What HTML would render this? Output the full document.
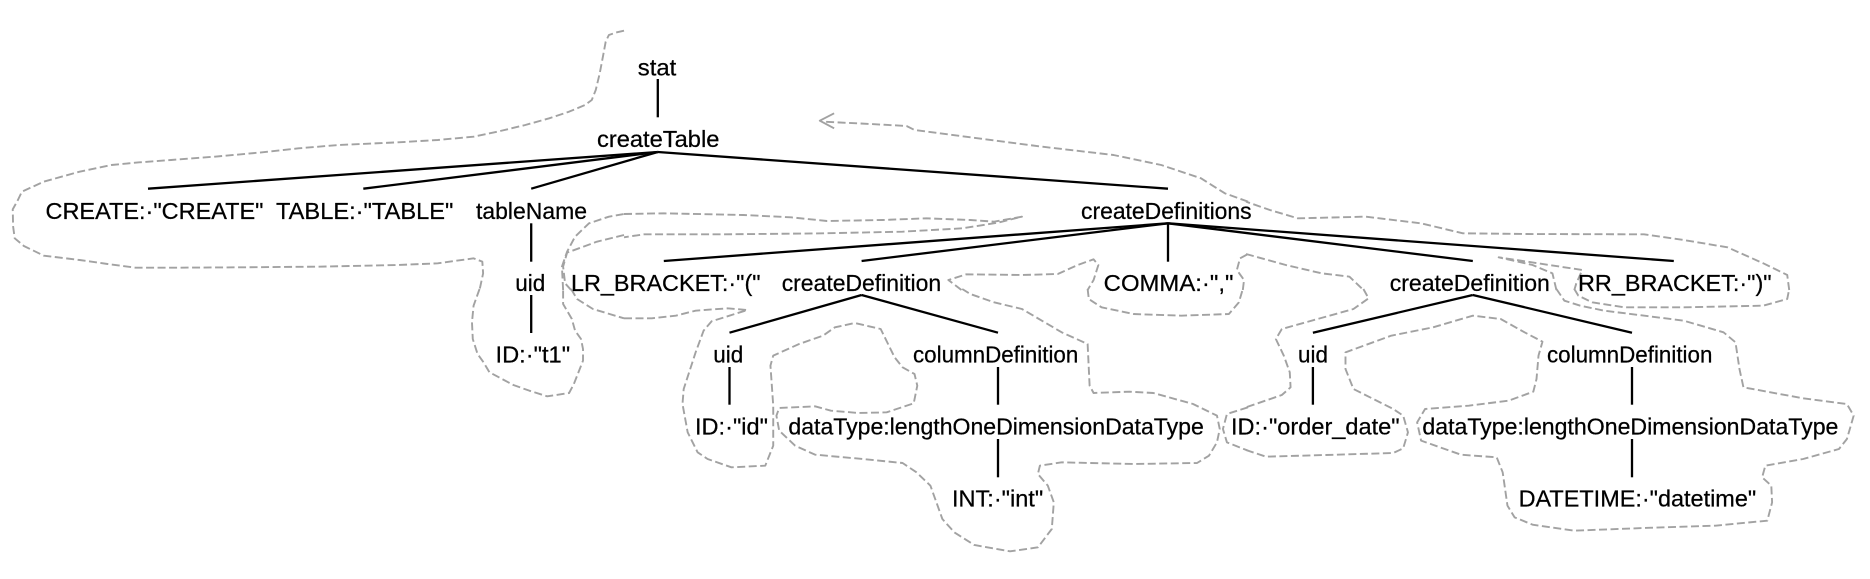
<!DOCTYPE html>
<html>
<head>
<meta charset="utf-8">
<style>
html,body{margin:0;padding:0;background:#fff;width:1870px;height:579px;overflow:hidden}
svg{display:block}
text{font-family:"Liberation Sans",Arial,sans-serif;font-size:23px;fill:#000;stroke:#000;stroke-width:.25px}
.t line{stroke:#000;stroke-width:2.3}
.d polyline{fill:none;stroke:#a2a2a2;stroke-width:1.9;stroke-dasharray:8 3.5;stroke-linejoin:round;vector-effect:non-scaling-stroke}
</style>
</head>
<body>
<svg width="1870" height="579" viewBox="0 0 1870 579" xmlns="http://www.w3.org/2000/svg">
<rect width="1870" height="579" fill="#fff"/>
<g class="d">
<g transform="translate(0,0) scale(0.39796,0.33333)">
<polyline points="1568,92 1550,97 1530,105 1522,125 1515,170 1507,220 1497,270 1487,300 1470,315 1430,335 1380,355 1320,375 1250,395 1190,410 1100,420 1000,427 850,435 750,445 650,458 540,470 430,480 350,487 280,495 200,515 110,545 55,575 45,600 32,628 33,680 37,715 60,738 110,767 200,780 270,792 340,803 450,803 600,802 800,800 1000,795 1100,790 1190,775 1212,785 1214,820 1205,870"/>
<polyline points="1415,870 1412,800 1425,755 1445,710 1480,670 1530,650 1568,642"/>
<polyline points="1568,705 1500,725 1425,758 1415,800 1420,850 1435,870"/>
</g>
<g transform="translate(0,289) scale(0.39796,0.33333)">
<polyline points="1205,0 1190,50 1186,100 1188,150 1200,195 1215,220 1230,250 1290,288 1330,305 1375,322 1430,312 1442,285 1465,215 1465,180 1460,150 1445,125 1437,90 1415,45 1415,0"/>
<polyline points="1435,0 1450,30 1490,60 1568,88"/>
</g>
<g transform="translate(624,0) scale(0.39796,0.33333)">
<polyline points="0,642 100,640 300,645 420,652 510,663 650,660 760,655 870,660 930,665 1000,650 940,668 850,685 700,695 500,700 250,703 50,703 0,712"/>
<polyline points="848,870 815,840 860,823 1000,825 1090,822 1140,795 1180,778 1192,795 1180,840 1165,870"/>
<polyline points="1555,870 1558,840 1540,810 1548,775 1568,762"/>
<polyline points="1568,605 1510,580 1450,535 1350,495 1230,465 1050,440 730,390 710,378 620,372 500,365"/>
<polyline style="stroke-dasharray:none" points="528,340 492,362 528,385"/>
</g>
<g transform="translate(624,289) scale(0.39796,0.33333)">
<polyline points="0,88 70,88 130,80 180,65 260,58 310,63 220,97 200,125 180,190 150,300 147,345 160,430 185,490 210,510 270,535 355,530 375,470 375,350 368,230 375,200 440,165 500,140 530,115 580,102 645,120 680,205 700,235 730,255 737,290 728,343 660,370 590,372 520,365 480,352 390,357 383,380 390,425 430,470 480,497 600,510 700,522 735,550 770,590 800,690 830,730 880,768 970,787 1040,775 1075,720 1080,640 1065,590 1040,555 1045,530 1100,520 1280,525 1440,522 1470,500 1490,460 1497,420 1490,380 1430,345 1330,312 1270,308 1180,312 1170,290 1165,165 1100,130 1000,60 930,40 870,15 850,0"/>
<polyline points="1165,0 1168,30 1200,55 1280,75 1400,80 1520,75 1545,40 1555,0"/>
<polyline points="1568,355 1515,375 1505,420 1515,460 1568,485"/>
</g>
<g transform="translate(1246,0) scale(0.39796,0.33333)">
<polyline points="0,762 100,795 190,820 260,830 295,870"/>
<polyline points="780,870 770,820 720,795 635,772 845,810 830,850 825,870"/>
<polyline points="1365,870 1360,825 1300,790 1210,742 1100,720 1000,703 700,702 545,700 440,670 300,650 130,655 60,630 0,605"/>
</g>
<g transform="translate(1246,289) scale(0.39796,0.33333)">
<polyline points="295,0 308,28 270,60 150,100 90,120 75,150 95,200 110,250 112,295 90,318 0,355"/>
<polyline points="0,483 50,503 200,498 370,492 395,478 407,430 395,380 370,360 270,300 250,240 250,190 365,140 470,115 570,80 640,90 700,130 745,158 735,200 730,270 722,308 660,335 560,350 450,360 430,400 440,455 540,497 630,505 645,550 657,650 675,685 720,707 825,725 1000,717 1180,710 1310,695 1322,640 1320,590 1297,565 1305,530 1400,510 1490,480 1510,450 1527,380 1510,345 1400,328 1250,295 1240,240 1230,160 1200,130 1100,95 900,65 840,50 800,35 780,0"/>
<polyline points="825,0 835,20 870,40 950,55 1100,55 1300,50 1360,30 1365,0"/>
</g>
</g>
<g class="t">
<line x1="657.8" y1="79" x2="657.8" y2="117.3"/>
<line x1="657.8" y1="152" x2="148" y2="188.7"/>
<line x1="657.8" y1="152" x2="363.3" y2="188.7"/>
<line x1="657.8" y1="152" x2="531.2" y2="188.7"/>
<line x1="657.8" y1="152" x2="1168" y2="188.7"/>
<line x1="531.2" y1="223.3" x2="531.2" y2="261.7"/>
<line x1="531.2" y1="295" x2="531.2" y2="333"/>
<line x1="1168" y1="223.3" x2="663.8" y2="261"/>
<line x1="1168" y1="223.3" x2="861.6" y2="261"/>
<line x1="1168" y1="223.3" x2="1168" y2="261.7"/>
<line x1="1168" y1="223.3" x2="1472.8" y2="261"/>
<line x1="1168" y1="223.3" x2="1673.8" y2="261"/>
<line x1="861.6" y1="295" x2="729.5" y2="332.7"/>
<line x1="861.6" y1="295" x2="998" y2="332.7"/>
<line x1="1472.8" y1="295" x2="1312.9" y2="332.7"/>
<line x1="1472.8" y1="295" x2="1632" y2="332.7"/>
<line x1="729.5" y1="367" x2="729.5" y2="404.7"/>
<line x1="998" y1="367" x2="998" y2="404.7"/>
<line x1="998" y1="439" x2="998" y2="477.3"/>
<line x1="1312.9" y1="367" x2="1312.9" y2="404.7"/>
<line x1="1632" y1="367" x2="1632" y2="404.7"/>
<line x1="1632" y1="439" x2="1632" y2="477.3"/>
</g>
<g>
<text x="637.8" y="75.3" textLength="38.4" lengthAdjust="spacingAndGlyphs">stat</text>
<text x="597" y="147" textLength="122.4" lengthAdjust="spacingAndGlyphs">createTable</text>
<text x="45.5" y="219" textLength="218" lengthAdjust="spacingAndGlyphs">CREATE:·"CREATE"</text>
<text x="276" y="219" textLength="177.4" lengthAdjust="spacingAndGlyphs">TABLE:·"TABLE"</text>
<text x="476" y="219" textLength="111" lengthAdjust="spacingAndGlyphs">tableName</text>
<text x="1081" y="219" textLength="170.6" lengthAdjust="spacingAndGlyphs">createDefinitions</text>
<text x="515.3" y="290.8" textLength="30" lengthAdjust="spacingAndGlyphs">uid</text>
<text x="571" y="290.8" textLength="189.6" lengthAdjust="spacingAndGlyphs">LR_BRACKET:·"("</text>
<text x="781.7" y="290.8" textLength="159.4" lengthAdjust="spacingAndGlyphs">createDefinition</text>
<text x="1103.7" y="290.8" textLength="129.8" lengthAdjust="spacingAndGlyphs">COMMA:·","</text>
<text x="1389.7" y="290.8" textLength="160.2" lengthAdjust="spacingAndGlyphs">createDefinition</text>
<text x="1578" y="290.8" textLength="193.6" lengthAdjust="spacingAndGlyphs">RR_BRACKET:·")"</text>
<text x="713.3" y="362.6" textLength="30" lengthAdjust="spacingAndGlyphs">uid</text>
<text x="913" y="362.6" textLength="165.3" lengthAdjust="spacingAndGlyphs">columnDefinition</text>
<text x="1298" y="362.6" textLength="30" lengthAdjust="spacingAndGlyphs">uid</text>
<text x="1547" y="362.6" textLength="165.4" lengthAdjust="spacingAndGlyphs">columnDefinition</text>
<text x="495.5" y="362.6" textLength="74.6" lengthAdjust="spacingAndGlyphs">ID:·"t1"</text>
<text x="695" y="434.4" textLength="73" lengthAdjust="spacingAndGlyphs">ID:·"id"</text>
<text x="788.4" y="434.4" textLength="415.4" lengthAdjust="spacingAndGlyphs">dataType:lengthOneDimensionDataType</text>
<text x="1231" y="434.4" textLength="168.6" lengthAdjust="spacingAndGlyphs">ID:·"order_date"</text>
<text x="1422.4" y="434.4" textLength="416" lengthAdjust="spacingAndGlyphs">dataType:lengthOneDimensionDataType</text>
<text x="952" y="506.4" textLength="91.2" lengthAdjust="spacingAndGlyphs">INT:·"int"</text>
<text x="1518.6" y="506.4" textLength="237.6" lengthAdjust="spacingAndGlyphs">DATETIME:·"datetime"</text>
</g>
</svg>
</body>
</html>
